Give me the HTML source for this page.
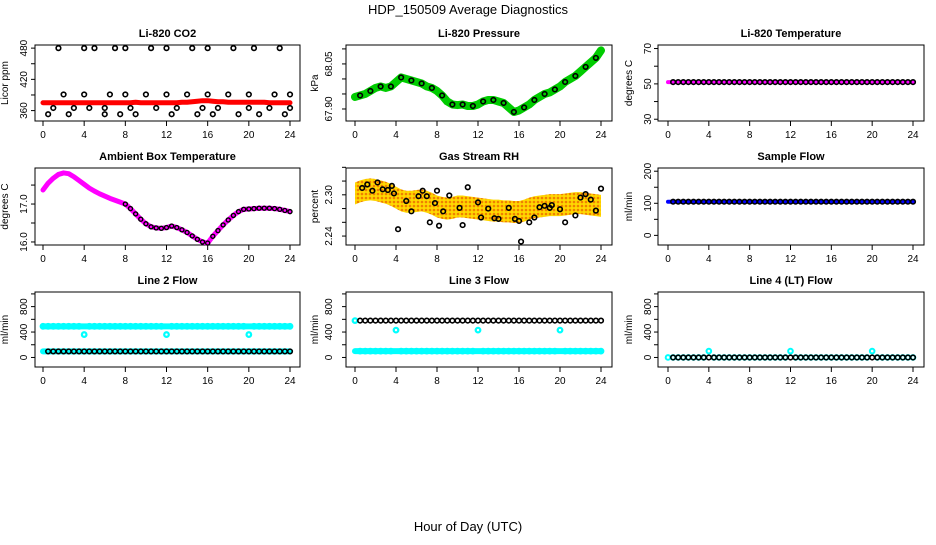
<!DOCTYPE html>
<html><head><meta charset="utf-8"><style>
body{margin:0;background:#fff}
svg{font-family:"Liberation Sans",sans-serif}
</style></head><body>
<svg id="c" width="936" height="540" viewBox="0 0 936 540">
<defs>
<pattern id="rhpat" width="4" height="4" patternUnits="userSpaceOnUse">
<rect width="4" height="4" fill="#ffd800"/><circle cx="2" cy="2" r="1.3" fill="#f08000"/></pattern>
</defs>
<text x="468" y="14" text-anchor="middle" font-size="13">HDP_150509  Average Diagnostics</text>
<text x="468" y="531" text-anchor="middle" font-size="13">Hour of Day (UTC)</text>
</svg>
<script>
const hours=[0,0.5,1,1.5,2,2.5,3,3.5,4,4.5,5,5.5,6,6.5,7,7.5,8,8.5,9,9.5,10,10.5,11,11.5,12,12.5,13,13.5,14,14.5,15,15.5,16,16.5,17,17.5,18,18.5,19,19.5,20,20.5,21,21.5,22,22.5,23,23.5,24];
const xTicks=[0,4,8,12,16,20,24];
const co2Red=[375,375,375,375,375,375,375,375,375,375,375,375,375,375,375,375,375,375,376,375,375,375,375,375,375,375,375,376,376,377,378,379,379,378,377,377,376,376,376,376,376,376,376,376,375,375,375,375,375];
const co2BlackH=[0.5,1,1.5,2,2.5,3,4,4,4.5,5,6,6,6.5,7,7.5,8,8,8.5,9,10,10.5,11,12,12,12.5,13,14,14.5,15,15.5,16,16,16.5,17,18,18.5,19,20,20,20.5,21,22,22.5,23,23.5,24,24];
const co2BlackV=[353,365,480,391,353,365,391,480,365,480,353,365,391,480,353,391,480,365,353,391,480,365,391,480,353,365,391,480,353,365,391,480,353,365,391,480,353,365,391,480,353,365,391,480,353,365,391];
const presGreen=[67.94,67.945,67.95,67.96,67.97,67.975,67.97,67.975,67.99,68.005,68.0,67.995,67.99,67.985,67.975,67.97,67.96,67.945,67.925,67.915,67.913,67.915,67.91,67.91,67.915,67.925,67.93,67.93,67.925,67.92,67.905,67.89,67.895,67.905,67.915,67.93,67.94,67.95,67.955,67.965,67.975,67.99,68.0,68.01,68.025,68.04,68.055,68.07,68.095];
const tempLicor=[51,51,51,51,51,51,51,51,51,51,51,51,51,51,51,51,51,51,51,51,51,51,51,51,51,51,51,51,51,51,51,51,51,51,51,51,51,51,51,51,51,51,51,51,51,51,51,51,51];
const ambient=[17.37,17.55,17.68,17.78,17.82,17.80,17.72,17.62,17.52,17.42,17.34,17.27,17.21,17.15,17.10,17.05,17.00,16.88,16.74,16.60,16.48,16.40,16.37,16.36,16.38,16.42,16.38,16.32,16.25,16.16,16.07,16.00,15.97,16.15,16.30,16.45,16.58,16.70,16.80,16.86,16.87,16.88,16.89,16.89,16.89,16.88,16.86,16.83,16.80];
const rhMean=[2.302,2.305,2.307,2.308,2.307,2.305,2.303,2.300,2.296,2.292,2.290,2.290,2.291,2.292,2.290,2.287,2.283,2.281,2.280,2.281,2.283,2.283,2.282,2.281,2.280,2.279,2.278,2.277,2.277,2.276,2.276,2.275,2.275,2.277,2.280,2.282,2.283,2.284,2.285,2.285,2.285,2.286,2.287,2.288,2.288,2.287,2.286,2.285,2.284];
const rhBlackH=[0.7,1.2,1.7,2.2,2.7,3.2,3.6,3.8,4.2,5,5.5,6.2,6.6,7,7.3,7.8,8,8.2,8.6,9.2,10.2,10.5,11,12,12.3,13,13.6,14,15,15.6,16,16.2,17,17.5,18,18.5,19,19.2,20,20.5,21.5,22,22.5,23,23.5,24];
const rhBlackV=[2.310,2.315,2.306,2.318,2.308,2.307,2.313,2.302,2.250,2.291,2.276,2.298,2.306,2.298,2.260,2.288,2.306,2.255,2.276,2.299,2.281,2.256,2.311,2.289,2.267,2.280,2.266,2.265,2.281,2.265,2.262,2.232,2.260,2.267,2.282,2.284,2.281,2.285,2.279,2.260,2.270,2.296,2.301,2.293,2.277,2.309];
const sampleFlow=[105,105,105,105,105,105,105,105,105,105,105,105,105,105,105,105,105,105,105,105,105,105,105,105,105,105,105,105,105,105,105,105,105,105,105,105,105,105,105,105,105,105,105,105,105,105,105,105,105];
const line2Cyan=[490,490,490,490,490,490,490,490,360,490,490,490,490,490,490,490,490,490,490,490,490,490,490,490,360,490,490,490,490,490,490,490,490,490,490,490,490,490,490,490,360,490,490,490,490,490,490,490,490];
const line2Black=[95,95,95,95,95,95,95,95,95,95,95,95,95,95,95,95,95,95,95,95,95,95,95,95,95,95,95,95,95,95,95,95,95,95,95,95,95,95,95,95,95,95,95,95,95,95,95,95,95];
const line3Cyan=[580,100,100,100,100,100,100,100,430,100,100,100,100,100,100,100,100,100,100,100,100,100,100,100,430,100,100,100,100,100,100,100,100,100,100,100,100,100,100,100,430,100,100,100,100,100,100,100,100];
const line3Black=[580,580,580,580,580,580,580,580,580,580,580,580,580,580,580,580,580,580,580,580,580,580,580,580,580,580,580,580,580,580,580,580,580,580,580,580,580,580,580,580,580,580,580,580,580,580,580,580,580];
const line4Cyan=[0,0,0,0,0,0,0,0,100,0,0,0,0,0,0,0,0,0,0,0,0,0,0,0,100,0,0,0,0,0,0,0,0,0,0,0,0,0,0,0,100,0,0,0,0,0,0,0,0];
const line4Black=[0,0,0,0,0,0,0,0,0,0,0,0,0,0,0,0,0,0,0,0,0,0,0,0,0,0,0,0,0,0,0,0,0,0,0,0,0,0,0,0,0,0,0,0,0,0,0,0,0];

const svg=document.getElementById('c');
const NS='http://www.w3.org/2000/svg';
function mk(tag,attrs,parent){const e=document.createElementNS(NS,tag);for(const k in attrs)e.setAttribute(k,attrs[k]);(parent||svg).appendChild(e);return e;}

const cols=[{x0:43,x1:290,bl:35,br:300,tl:11,yl:27},{x0:355,x1:601,bl:346,br:612,tl:17,yl:28},{x0:668,x1:913,bl:658,br:924,tl:10,yl:26}];
const rows=[{top:45,bot:121},{top:168,bot:245},{top:292,bot:367}];

function panel(c,r,title,ylab,ymin,ymax,yTicks,yLabels,name){
  const C=cols[c],R=rows[r];
  const g=mk('g',{});
  
  
  const sx=h=>C.x0+(C.x1-C.x0)*h/24;
  const sy=v=>R.bot-(v-ymin)/(ymax-ymin)*(R.bot-R.top);
  const box=mk('rect',{x:C.bl,y:R.top,width:C.br-C.bl,height:R.bot-R.top,fill:'none',stroke:'#000','stroke-width':1},g);
  
  
  const t=mk('text',{x:(C.bl+C.br)/2,y:R.top-8,'text-anchor':'middle','font-size':11,'font-weight':'bold'},g);
  t.textContent=title;
  
  
  const yl=mk('text',{transform:`translate(${C.bl-C.yl},${(R.top+R.bot)/2}) rotate(-90)`,'text-anchor':'middle','font-size':10},g);
  yl.textContent=ylab;
  
  
  yTicks.forEach((v,i)=>{const y=sy(v);mk('line',{x1:C.bl-4,x2:C.bl,y1:y,y2:y,stroke:'#000'},g);
    if(yLabels[i]!==''){const tl=mk('text',{transform:`translate(${C.bl-C.tl+3},${y}) rotate(-90)`,'text-anchor':'middle','font-size':10},g);tl.textContent=yLabels[i];
    
    }});
  xTicks.forEach(h=>{const x=sx(h);mk('line',{x1:x,x2:x,y1:R.bot,y2:R.bot+5,stroke:'#000'},g);
    const tl=mk('text',{x:x,y:R.bot+17,'text-anchor':'middle','font-size':10},g);tl.textContent=h;
    
    });
  return {g,sx,sy};
}
function pts(P,hs,vs,color,name,lw,r){
  const g=mk('g',{},P.g);
  
  
  vs.forEach((v,i)=>{const c=mk('circle',{cx:P.sx(hs[i]),cy:P.sy(v),r:r||2.3,fill:'none',stroke:color,'stroke-width':lw||1.6},g);
    
    });
}
function dense(P,vs,color,name,w){
  const d=vs.map((v,i)=>(i?'L':'M')+P.sx(hours[i])+','+P.sy(v)).join('');
  const p=mk('path',{d:d,fill:'none',stroke:color,'stroke-width':w||5,'stroke-linecap':'round','stroke-linejoin':'round'},P.g);
  
  
}

// Row 1
let P=panel(0,0,'Li-820 CO2','Licor ppm',340,486,[360,390,420,450,480],['360','','420','','480'],'co2');
dense(P,co2Red,'#f00','co2-red-series',5);
pts(P,co2BlackH,co2BlackV,'#000','co2-black-series');
P=panel(1,0,'Li-820 Pressure','kPa',67.86,68.113,[67.90,67.95,68.00,68.05,68.10],['67.90','','','68.05',''],'pressure');
dense(P,presGreen,'#0c0','pressure-green-series',8);
pts(P,hours.filter((h,i)=>i%2==1),presGreen.filter((h,i)=>i%2==1),'#000','pressure-black-series');
P=panel(2,0,'Li-820 Temperature','degrees C',29,72,[30,40,50,60,70],['30','','50','','70'],'licor-temp');
dense(P,tempLicor,'#f0f','licor-temp-magenta-series',4);
pts(P,hours.slice(1),tempLicor.slice(1),'#000','licor-temp-black-series');
// Row 2
P=panel(0,1,'Ambient Box Temperature','degrees C',15.92,17.95,[16.0,16.5,17.0,17.5],['16.0','','17.0',''],'ambient');
dense(P,ambient,'#f0f','ambient-magenta-series',5);
pts(P,hours.filter((h,i)=>i>=16),ambient.filter((h,i)=>i>=16),'#000','ambient-black-series',1.4,2);
P=panel(1,1,'Gas Stream RH','percent',2.227,2.339,[2.24,2.26,2.28,2.30,2.32,2.34],['2.24','','','2.30','',''],'rh');
{const up=rhMean.map((v,i)=>P.sx(hours[i])+','+P.sy(v+0.016));const dn=rhMean.map((v,i)=>P.sx(hours[i])+','+P.sy(v-0.016)).reverse();
 const b=mk('polygon',{points:up.concat(dn).join(' '),fill:'url(#rhpat)'},P.g);
 
 }
pts(P,rhBlackH,rhBlackV,'#000','rh-black-series');
P=panel(2,1,'Sample Flow','ml/min',-30,210,[0,50,100,150,200],['0','','100','','200'],'sample-flow');
dense(P,sampleFlow,'#00f','sample-flow-blue-series',4);
pts(P,hours.slice(1),sampleFlow.slice(1),'#000','sample-flow-black-series');
// Row 3
const fT=[0,200,400,600,800,1000],fL=['0','','400','','800',''];
P=panel(0,2,'Line 2 Flow','ml/min',-150,1030,fT,fL,'line2');
dense(P,line2Cyan.map((v,i)=>line2Cyan[0]),'#0ff','line2-cyan-band',6);
pts(P,hours,line2Cyan,'#0ff','line2-cyan-series',2.2);
dense(P,line2Black,'#0ff','line2-cyan-low',6);
pts(P,hours.slice(1),line2Black.slice(1),'#000','line2-black-series');
P=panel(1,2,'Line 3 Flow','ml/min',-150,1030,fT,fL,'line3');
dense(P,line3Cyan.map((v,i)=>line3Cyan[1]),'#0ff','line3-cyan-band',6);
pts(P,hours,line3Cyan,'#0ff','line3-cyan-series',2.2);
pts(P,hours.slice(1),line3Black.slice(1),'#000','line3-black-series');
P=panel(2,2,'Line 4 (LT) Flow','ml/min',-150,1030,fT,fL,'line4');
pts(P,hours,line4Cyan,'#0ff','line4-cyan-series',2);
pts(P,hours.slice(1),line4Black.slice(1),'#000','line4-black-series');
</script>
</body></html>
